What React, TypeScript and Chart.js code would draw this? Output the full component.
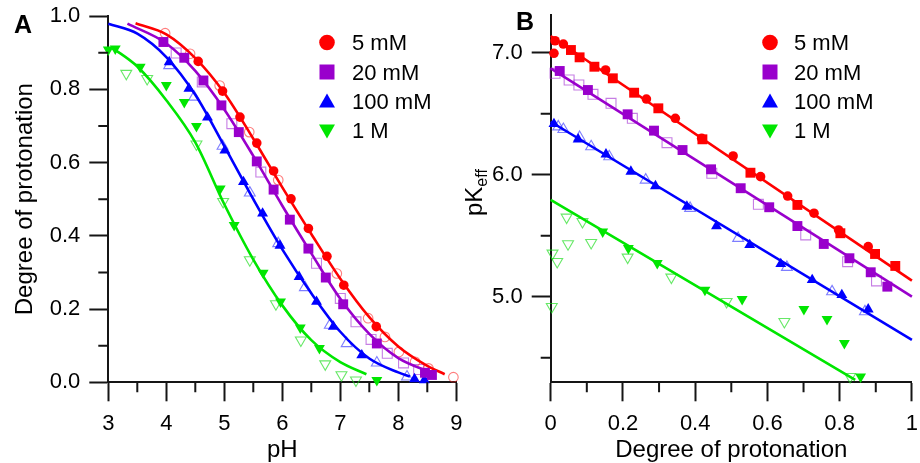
import React, { useEffect, useRef } from 'react';
import { Chart, registerables } from 'chart.js';

Chart.register(...registerables);

type Pt = [number, number];

const FONT = "'Liberation Sans', Arial, Helvetica, sans-serif";
const AXIS = '#151515';

const SERIES_LABELS = ['5 mM', '20 mM', '100 mM', '1 M'];
const SERIES_COLORS = ['#ff0000', '#9900cc', '#0000ff', '#00e600'];
const OPEN_COLORS = ['rgba(255,40,40,0.6)', 'rgba(160,40,210,0.6)', 'rgba(40,40,255,0.6)', 'rgba(20,220,20,0.65)'];

// ---------- Panel A : degree of protonation vs pH ----------
const A_X_TICKS = [3, 4, 5, 6, 7, 8, 9];
const A_X_MINOR = [3.5, 4.5, 5.5, 6.5, 7.5, 8.5];
const A_Y_TICKS = [0, 0.2, 0.4, 0.6, 0.8, 1.0];
const A_Y_MINOR = [0.1, 0.3, 0.5, 0.7, 0.9];

const A_5mM_filled: Pt[] = [[4.55, 0.876], [4.97, 0.795], [5.27, 0.724], [5.56, 0.653], [5.85, 0.577], [6.15, 0.501], [6.45, 0.42], [6.77, 0.344], [7.06, 0.265], [7.62, 0.152]];
const A_5mM_open: Pt[] = [[3.98, 0.953], [4.41, 0.897], [4.92, 0.81], [5.43, 0.683], [5.93, 0.552], [6.94, 0.297], [7.48, 0.175], [7.77, 0.124], [8.01, 0.083], [8.29, 0.056], [8.52, 0.038], [8.95, 0.014]];
const A_5mM_fit: Pt[] = [[3.47, 0.98], [4.0, 0.95], [4.5, 0.885], [5.0, 0.79], [5.5, 0.665], [6.0, 0.532], [6.5, 0.405], [7.0, 0.283], [7.5, 0.178], [8.0, 0.098], [8.5, 0.045], [8.8, 0.022]];

const A_20mM_filled: Pt[] = [[3.95, 0.929], [4.31, 0.886], [4.64, 0.824], [4.95, 0.756], [5.25, 0.683], [5.56, 0.603], [5.85, 0.526], [6.13, 0.444], [6.45, 0.365], [6.75, 0.286], [7.05, 0.213], [7.63, 0.106], [8.46, 0.026], [8.58, 0.02]];
const A_20mM_open: Pt[] = [[4.17, 0.899], [4.62, 0.82], [5.13, 0.706], [5.63, 0.574], [6.59, 0.325], [7.0, 0.229], [7.27, 0.165], [7.53, 0.117], [7.81, 0.079], [8.09, 0.053], [8.35, 0.035]];
const A_20mM_fit: Pt[] = [[3.33, 0.979], [4.0, 0.925], [4.5, 0.85], [5.0, 0.745], [5.5, 0.618], [6.0, 0.482], [6.5, 0.352], [7.0, 0.228], [7.5, 0.132], [8.0, 0.066], [8.6, 0.025]];

const A_100mM_filled: Pt[] = [[4.05, 0.874], [4.39, 0.802], [4.71, 0.723], [5.01, 0.633], [5.33, 0.547], [5.66, 0.461], [5.96, 0.373], [6.29, 0.288], [6.59, 0.22], [6.88, 0.152], [7.37, 0.074], [8.28, 0.009], [8.45, 0.006]];
const A_100mM_open: Pt[] = [[4.05, 0.865], [4.48, 0.779], [4.97, 0.645], [5.44, 0.517], [5.93, 0.379], [6.39, 0.259], [6.82, 0.156], [7.11, 0.106], [7.63, 0.053], [8.15, 0.015]];
const A_100mM_fit: Pt[] = [[3.0, 0.979], [3.5, 0.952], [4.0, 0.888], [4.5, 0.785], [5.0, 0.645], [5.5, 0.5], [6.0, 0.363], [6.5, 0.243], [7.0, 0.138], [7.5, 0.065], [8.0, 0.027], [8.2, 0.016]];

const A_1M_filled: Pt[] = [[3.0, 0.908], [3.12, 0.911], [3.55, 0.861], [4.0, 0.811], [4.31, 0.765], [4.52, 0.699], [4.93, 0.529], [5.17, 0.429], [5.67, 0.299], [5.97, 0.22], [6.31, 0.149], [6.64, 0.093], [7.63, 0.006]];
const A_1M_open: Pt[] = [[3.31, 0.843], [3.67, 0.829], [4.52, 0.65], [4.98, 0.493], [5.44, 0.334], [5.89, 0.214], [6.32, 0.115], [6.74, 0.05], [7.02, 0.02], [7.27, 0.006]];
const A_1M_fit: Pt[] = [[3.05, 0.915], [3.5, 0.862], [4.0, 0.77], [4.5, 0.655], [5.0, 0.486], [5.5, 0.335], [6.0, 0.21], [6.5, 0.115], [7.0, 0.055], [7.45, 0.022]];

// ---------- Panel B : pKeff vs degree of protonation ----------
const B_X_TICKS = [0, 0.2, 0.4, 0.6, 0.8, 1];
const B_X_MINOR = [0.1, 0.3, 0.5, 0.7, 0.9];
const B_Y_TICKS = [5, 6, 7];
const B_Y_MINOR = [4.5, 5.5, 6.5];

const B_5mM_circles: Pt[] = [[0.012, 7.098], [0.009, 6.995], [0.035, 7.071], [0.152, 6.858], [0.265, 6.62], [0.345, 6.462], [0.418, 6.298], [0.505, 6.153], [0.581, 5.984], [0.656, 5.825], [0.729, 5.684], [0.797, 5.547], [0.879, 5.41]];
const B_5mM_squares: Pt[] = [[0.056, 7.022], [0.08, 6.962], [0.121, 6.885], [0.172, 6.79], [0.231, 6.672], [0.298, 6.544], [0.42, 6.29], [0.553, 6.016], [0.683, 5.752], [0.802, 5.52], [0.898, 5.35], [0.954, 5.252]];
const B_5mM_fit: Pt[] = [[0, 7.137], [1, 5.131]];

const B_20mM_filled: Pt[] = [[0.025, 6.85], [0.103, 6.694], [0.213, 6.495], [0.286, 6.361], [0.365, 6.202], [0.444, 6.044], [0.526, 5.889], [0.605, 5.733], [0.683, 5.579], [0.756, 5.432], [0.827, 5.315], [0.886, 5.2], [0.932, 5.082]];
const B_20mM_open: Pt[] = [[0.012, 6.831], [0.051, 6.776], [0.078, 6.735], [0.117, 6.659], [0.167, 6.585], [0.226, 6.462], [0.322, 6.262], [0.446, 6.011], [0.575, 5.757], [0.706, 5.506], [0.822, 5.287], [0.902, 5.129]];
const B_20mM_fit: Pt[] = [[0, 6.872], [1, 5.0]];

const B_100mM_filled: Pt[] = [[0.009, 6.416], [0.076, 6.29], [0.153, 6.167], [0.222, 6.025], [0.29, 5.907], [0.377, 5.738], [0.459, 5.579], [0.551, 5.424], [0.637, 5.268], [0.724, 5.137], [0.806, 5.014], [0.879, 4.897]];
const B_100mM_open: Pt[] = [[0.021, 6.393], [0.035, 6.372], [0.08, 6.307], [0.112, 6.23], [0.162, 6.148], [0.263, 5.957], [0.386, 5.725], [0.519, 5.479], [0.654, 5.241], [0.779, 5.041], [0.87, 4.877]];
const B_100mM_fit: Pt[] = [[0, 6.434], [1, 4.645]];

const B_1M_filled: Pt[] = [[0.144, 5.533], [0.215, 5.397], [0.295, 5.274], [0.427, 5.055], [0.53, 4.979], [0.701, 4.897], [0.765, 4.815], [0.813, 4.618], [0.858, 4.344]];
const B_1M_open: Pt[] = [[0.044, 5.651], [0.088, 5.615], [0.048, 5.432], [0.112, 5.443], [0.005, 5.356], [0.018, 5.287], [0.003, 4.918], [0.213, 5.323], [0.334, 5.159], [0.487, 4.959], [0.647, 4.795], [0.829, 4.344]];
const B_1M_fit: Pt[] = [[0, 5.793], [0.843, 4.317]];

// ---------- helpers ----------
type Shape = 'circle' | 'rect' | 'triangle' | 'tridown';

function markerProps(shape: Shape) {
  if (shape === 'circle') return { pointStyle: 'circle', pointRadius: 4.8, pointRotation: 0 };
  if (shape === 'rect') return { pointStyle: 'rect', pointRadius: 7, pointRotation: 0 };
  if (shape === 'triangle') return { pointStyle: 'triangle', pointRadius: 6.3, pointRotation: 0 };
  return { pointStyle: 'triangle', pointRadius: 6.3, pointRotation: 180 };
}

function pts(d: Pt[]) {
  return d.map(([x, y]) => ({ x, y }));
}

function markerDs(d: Pt[], shape: Shape, color: string, filled: boolean) {
  return {
    type: 'scatter',
    data: pts(d),
    ...markerProps(shape),
    pointBackgroundColor: filled ? color : 'rgba(0,0,0,0)',
    pointBorderColor: color,
    pointBorderWidth: filled ? 0 : 1.1,
    showLine: false,
    order: filled ? 0 : 2,
    clip: false,
  };
}

function fitDs(d: Pt[], color: string) {
  return {
    type: 'scatter',
    data: pts(d),
    showLine: true,
    borderColor: color,
    borderWidth: 2.6,
    pointRadius: 0,
    cubicInterpolationMode: 'monotone',
    fill: false,
    order: 1,
    clip: false,
  };
}

function drawLegendMarker(ctx: CanvasRenderingContext2D, shape: Shape, x: number, y: number, color: string) {
  ctx.fillStyle = color;
  ctx.beginPath();
  if (shape === 'circle') {
    ctx.arc(x, y, 7.8, 0, Math.PI * 2);
  } else if (shape === 'rect') {
    ctx.rect(x - 7.5, y - 7.5, 15, 15);
  } else if (shape === 'triangle') {
    ctx.moveTo(x, y - 8);
    ctx.lineTo(x + 8, y + 6);
    ctx.lineTo(x - 8, y + 6);
  } else {
    ctx.moveTo(x, y + 8);
    ctx.lineTo(x + 8, y - 6);
    ctx.lineTo(x - 8, y - 6);
  }
  ctx.closePath();
  ctx.fill();
}

interface PanelSpec {
  datasets: any[];
  xMin: number; xMax: number; yMin: number; yMax: number;
  xTicks: number[]; yTicks: number[]; xMinor: number[]; yMinor: number[];
  xFmt: (v: number) => string; yFmt: (v: number) => string;
  xTitle: string; yTitle: string | null;
  yAxisWidth: number; padTop: number; padRight: number;
  legendMarkerX: number; legendTextX: number; legendShapes: Shape[];
  letter: string; letterX: number; letterY: number;
  pk?: { x: number; y: number };
}

const X_AXIS_H = 80.7;
const MAJOR_LEN = 19;
const MINOR_LEN = 10;
const LEGEND_Y = [42.5, 72, 101.5, 130.5];

function makeConfig(s: PanelSpec): any {
  const decor = {
    id: 'decor',
    afterDraw(chart: any) {
      const ctx: CanvasRenderingContext2D = chart.ctx;
      const xs = chart.scales.x;
      const ys = chart.scales.y;
      ctx.save();
      ctx.strokeStyle = AXIS;
      ctx.lineWidth = 2;
      ctx.beginPath();
      for (const v of s.xMinor) {
        const px = xs.getPixelForValue(v);
        ctx.moveTo(px, xs.top);
        ctx.lineTo(px, xs.top + MINOR_LEN);
      }
      for (const v of s.yMinor) {
        const py = ys.getPixelForValue(v);
        ctx.moveTo(ys.right - MINOR_LEN, py);
        ctx.lineTo(ys.right, py);
      }
      ctx.stroke();

      // legend
      ctx.font = `22px ${FONT}`;
      ctx.textAlign = 'left';
      ctx.textBaseline = 'middle';
      SERIES_LABELS.forEach((lab, i) => {
        drawLegendMarker(ctx, s.legendShapes[i], s.legendMarkerX, LEGEND_Y[i], SERIES_COLORS[i]);
        ctx.fillStyle = '#000';
        ctx.fillText(lab, s.legendTextX, LEGEND_Y[i] + 1.5);
      });

      // panel letter
      ctx.font = `bold 25px ${FONT}`;
      ctx.textBaseline = 'alphabetic';
      ctx.fillStyle = '#000';
      ctx.fillText(s.letter, s.letterX, s.letterY);

      // pK_eff axis title with subscript
      if (s.pk) {
        ctx.translate(s.pk.x, s.pk.y);
        ctx.rotate(-Math.PI / 2);
        ctx.font = `24px ${FONT}`;
        ctx.textAlign = 'left';
        ctx.textBaseline = 'alphabetic';
        ctx.fillText('pK', 0, 0);
        const w = ctx.measureText('pK').width;
        ctx.font = `16px ${FONT}`;
        ctx.fillText('eff', w, 5);
      }
      ctx.restore();
    },
  };

  const gridOpts = { display: true, drawOnChartArea: false, drawTicks: true, tickLength: MAJOR_LEN, tickWidth: 2, tickColor: AXIS };
  const borderOpts = { display: true, width: 2, color: AXIS };
  const tickFont = { size: 22, family: FONT };

  return {
    type: 'scatter',
    data: { datasets: s.datasets },
    plugins: [decor],
    options: {
      responsive: false,
      animation: false,
      events: [],
      layout: { padding: { left: 0, top: s.padTop, right: s.padRight, bottom: 0 } },
      plugins: { legend: { display: false }, tooltip: { enabled: false }, title: { display: false } },
      scales: {
        x: {
          type: 'linear', min: s.xMin, max: s.xMax,
          afterBuildTicks: (sc: any) => { sc.ticks = s.xTicks.map((v) => ({ value: v })); },
          afterFit: (sc: any) => { sc.height = X_AXIS_H; sc.paddingLeft = 0; sc.paddingRight = 0; },
          grid: gridOpts,
          border: borderOpts,
          ticks: { autoSkip: false, maxRotation: 0, minRotation: 0, padding: 9, color: '#000', font: tickFont, callback: (v: any) => s.xFmt(Number(v)) },
          title: { display: true, text: s.xTitle, color: '#000', font: { size: 24, family: FONT, lineHeight: 1 }, padding: { top: 0, bottom: 1 } },
        },
        y: {
          type: 'linear', min: s.yMin, max: s.yMax,
          afterBuildTicks: (sc: any) => { sc.ticks = s.yTicks.map((v) => ({ value: v })); },
          afterFit: (sc: any) => { sc.width = s.yAxisWidth; sc.paddingTop = 0; sc.paddingBottom = 0; },
          grid: gridOpts,
          border: borderOpts,
          ticks: { autoSkip: false, padding: 9, color: '#000', font: tickFont, callback: (v: any) => s.yFmt(Number(v)) },
          title: s.yTitle
            ? { display: true, text: s.yTitle, color: '#000', font: { size: 24, family: FONT, lineHeight: 1 }, padding: { top: 13, bottom: 0 } }
            : { display: false },
        },
      },
    },
  };
}

const SHAPES_A: Shape[] = ['circle', 'rect', 'triangle', 'tridown'];

function panelA(): PanelSpec {
  const filled = [A_5mM_filled, A_20mM_filled, A_100mM_filled, A_1M_filled];
  const open = [A_5mM_open, A_20mM_open, A_100mM_open, A_1M_open];
  const fits = [A_5mM_fit, A_20mM_fit, A_100mM_fit, A_1M_fit];
  const datasets: any[] = [];
  for (let i = 0; i < 4; i++) {
    datasets.push(markerDs(filled[i], SHAPES_A[i], SERIES_COLORS[i], true));
    datasets.push(fitDs(fits[i], SERIES_COLORS[i]));
    datasets.push(markerDs(open[i], SHAPES_A[i], OPEN_COLORS[i], false));
  }
  return {
    datasets,
    xMin: 3, xMax: 9, yMin: 0, yMax: 1,
    xTicks: A_X_TICKS, yTicks: A_Y_TICKS, xMinor: A_X_MINOR, yMinor: A_Y_MINOR,
    xFmt: (v) => String(v), yFmt: (v) => v.toFixed(1),
    xTitle: 'pH', yTitle: 'Degree of protonation',
    yAxisWidth: 108.3, padTop: 16, padRight: 470 - 456.3,
    legendMarkerX: 327, legendTextX: 352, legendShapes: SHAPES_A,
    letter: 'A', letterX: 14, letterY: 33,
  };
}

function panelB(): PanelSpec {
  const datasets: any[] = [];
  datasets.push(markerDs(B_5mM_circles, 'circle', SERIES_COLORS[0], true));
  datasets.push(markerDs(B_5mM_squares, 'rect', SERIES_COLORS[0], true));
  datasets.push(fitDs(B_5mM_fit, SERIES_COLORS[0]));
  datasets.push(markerDs(B_20mM_filled, 'rect', SERIES_COLORS[1], true));
  datasets.push(fitDs(B_20mM_fit, SERIES_COLORS[1]));
  datasets.push(markerDs(B_20mM_open, 'rect', OPEN_COLORS[1], false));
  datasets.push(markerDs(B_100mM_filled, 'triangle', SERIES_COLORS[2], true));
  datasets.push(fitDs(B_100mM_fit, SERIES_COLORS[2]));
  datasets.push(markerDs(B_100mM_open, 'triangle', OPEN_COLORS[2], false));
  datasets.push(markerDs(B_1M_filled, 'tridown', SERIES_COLORS[3], true));
  datasets.push(fitDs(B_1M_fit, SERIES_COLORS[3]));
  datasets.push(markerDs(B_1M_open, 'tridown', OPEN_COLORS[3], false));
  return {
    datasets,
    xMin: 0, xMax: 1, yMin: 4.298, yMax: 7.309,
    xTicks: B_X_TICKS, yTicks: B_Y_TICKS, xMinor: B_X_MINOR, yMinor: B_Y_MINOR,
    xFmt: (v) => (v === 0 || v === 1 ? String(v) : v.toFixed(1)), yFmt: (v) => v.toFixed(1),
    xTitle: 'Degree of protonation', yTitle: null,
    yAxisWidth: 550.7 - 440, padTop: 15, padRight: 480 - 915.7 + 440,
    legendMarkerX: 770 - 440, legendTextX: 794 - 440, legendShapes: SHAPES_A,
    letter: 'B', letterX: 516 - 440, letterY: 30,
    pk: { x: 482 - 440, y: 216 },
  };
}

function Panel({ spec, left, width }: { spec: () => PanelSpec; left: number; width: number }) {
  const ref = useRef<HTMLCanvasElement>(null);
  useEffect(() => {
    const chart = new Chart(ref.current as HTMLCanvasElement, makeConfig(spec()));
    return () => chart.destroy();
  }, []);
  return (
    <canvas
      ref={ref}
      width={width}
      height={463}
      style={{ position: 'absolute', left, top: 0, width, height: 463 }}
    />
  );
}

export default function App() {
  return (
    <div style={{ position: 'fixed', left: 0, top: 0, width: 920, height: 463, background: '#fff', overflow: 'hidden' }}>
      <Panel spec={panelA} left={0} width={470} />
      <Panel spec={panelB} left={440} width={480} />
    </div>
  );
}
